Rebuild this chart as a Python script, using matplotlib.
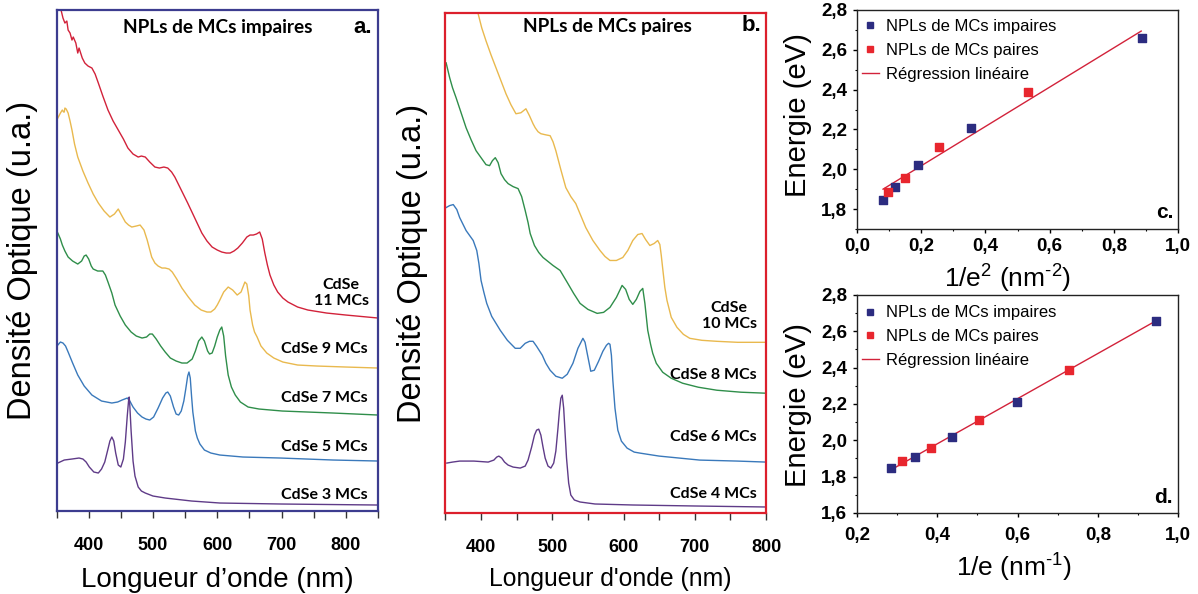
import numpy as np
import matplotlib
matplotlib.use('Agg')
import matplotlib.pyplot as plt
from matplotlib.ticker import MultipleLocator, FuncFormatter
from matplotlib.lines import Line2D

plt.rcParams['font.family'] = ['Liberation Sans', 'DejaVu Sans']
plt.rcParams['mathtext.default'] = 'regular'

# ---- panel a : odd monolayer spectra (wavelength nm, optical density a.u.)
wl_a11 = [354, 357, 360, 363, 366, 368, 371, 374, 376, 380, 383, 385, 390, 394, 399, 405, 410, 415, 422, 430,
          438, 446, 454, 461, 469, 477, 482, 488, 495, 503, 510, 517, 523, 529, 534, 544, 554, 565, 576, 584,
          592, 600, 607, 614, 620, 626, 632, 639, 646, 651, 656, 661, 666, 670, 674, 678, 682, 688, 694, 702,
          710, 725, 741, 770, 800, 850]
od_a11 = [5.11, 5.01, 4.93, 4.88, 4.90, 4.81, 4.78, 4.71, 4.74, 4.68, 4.58, 4.63, 4.53, 4.48, 4.45, 4.43, 4.37,
          4.28, 4.15, 4.01, 3.90, 3.81, 3.72, 3.63, 3.57, 3.54, 3.55, 3.54, 3.49, 3.44, 3.43, 3.44, 3.43, 3.39,
          3.34, 3.21, 3.08, 2.93, 2.78, 2.70, 2.64, 2.61, 2.59, 2.58, 2.58, 2.60, 2.63, 2.68, 2.74, 2.76, 2.76,
          2.77, 2.79, 2.72, 2.58, 2.46, 2.36, 2.26, 2.19, 2.13, 2.09, 2.04, 2.01, 1.98, 1.96, 1.93]

wl_a9 = [352, 356, 359, 361, 362, 363, 365, 368, 371, 374, 378, 383, 391, 399, 407, 415, 424, 433, 440, 446,
         451, 457, 462, 467, 474, 480, 486, 491, 498, 503, 508, 514, 519, 525, 530, 537, 545, 555, 565, 575,
         584, 590, 596, 600, 604, 610, 617, 624, 631, 637, 643, 646, 649, 651, 655, 658, 662, 668, 677, 688,
         702, 725, 755, 800, 850]
od_a9 = [3.93, 3.98, 4.01, 3.99, 3.99, 4.03, 4.02, 3.98, 3.90, 3.81, 3.67, 3.54, 3.40, 3.28, 3.17, 3.08, 3.00,
         2.94, 2.97, 3.02, 2.96, 2.89, 2.86, 2.84, 2.85, 2.86, 2.81, 2.71, 2.54, 2.48, 2.45, 2.43, 2.43, 2.42,
         2.39, 2.32, 2.23, 2.14, 2.06, 2.01, 1.99, 1.99, 2.02, 2.06, 2.11, 2.19, 2.24, 2.21, 2.16, 2.19, 2.29,
         2.27, 2.15, 2.01, 1.86, 1.79, 1.74, 1.65, 1.58, 1.53, 1.49, 1.46, 1.45, 1.44, 1.43]

wl_a7 = [352, 356, 359, 363, 368, 375, 383, 389, 393, 396, 400, 404, 407, 414, 422, 426, 430, 436, 441, 449,
         457, 466, 474, 483, 490, 495, 499, 505, 512, 519, 527, 536, 545, 553, 561, 566, 571, 576, 580, 585,
         588, 592, 596, 600, 604, 607, 610, 613, 617, 622, 628, 636, 648, 665, 701, 780, 850]
od_a7 = [2.78, 2.72, 2.66, 2.60, 2.54, 2.50, 2.47, 2.50, 2.55, 2.56, 2.52, 2.45, 2.42, 2.40, 2.40, 2.36, 2.29,
         2.18, 2.06, 1.95, 1.86, 1.79, 1.75, 1.73, 1.74, 1.77, 1.77, 1.72, 1.65, 1.59, 1.53, 1.50, 1.48, 1.48,
         1.52, 1.60, 1.70, 1.74, 1.70, 1.60, 1.57, 1.58, 1.65, 1.74, 1.81, 1.84, 1.75, 1.55, 1.36, 1.24, 1.16,
         1.09, 1.04, 1.02, 1.00, 0.98, 0.96]

wl_a5 = [352, 356, 360, 364, 368, 375, 383, 393, 405, 420, 436, 445, 452, 456, 460, 464, 469, 476, 483, 489,
         495, 501, 508, 515, 520, 523, 527, 532, 536, 540, 544, 548, 551, 554, 556, 558, 560, 562, 566, 569,
         573, 580, 590, 604, 640, 698, 780, 850]
od_a5 = [1.66, 1.69, 1.68, 1.65, 1.59, 1.48, 1.36, 1.25, 1.16, 1.10, 1.08, 1.09, 1.11, 1.12, 1.13, 1.10, 1.04,
         0.98, 0.94, 0.92, 0.91, 0.94, 1.03, 1.13, 1.18, 1.19, 1.15, 1.04, 0.97, 0.96, 1.00, 1.10, 1.22, 1.35,
         1.39, 1.33, 1.15, 0.99, 0.80, 0.73, 0.67, 0.61, 0.58, 0.56, 0.54, 0.53, 0.51, 0.50]

wl_a3 = [352, 362, 374, 385, 391, 396, 401, 408, 415, 420, 425, 430, 433, 436, 439, 442, 446, 450, 454, 457,
         460, 462, 463, 464, 466, 469, 472, 477, 482, 488, 500, 519, 560, 604, 700, 850]
od_a3 = [0.48, 0.51, 0.52, 0.53, 0.52, 0.49, 0.44, 0.39, 0.38, 0.42, 0.49, 0.62, 0.70, 0.74, 0.70, 0.58, 0.46,
         0.44, 0.52, 0.69, 0.95, 1.10, 1.14, 1.05, 0.80, 0.50, 0.35, 0.24, 0.20, 0.18, 0.15, 0.13, 0.10, 0.08,
         0.07, 0.06]

# ---- panel b : even monolayer spectra
wl_b10 = [384, 396, 401, 407, 414, 421, 428, 435, 442, 449, 456, 463, 468, 473, 476, 480, 484, 490, 497, 501,
          505, 512, 519, 526, 533, 540, 547, 557, 567, 574, 581, 590, 599, 606, 613, 620, 626, 631, 637, 643,
          648, 651, 653, 655, 658, 661, 667, 675, 684, 693, 710, 731, 760, 800]
od_b10 = [5.13, 5.00, 4.86, 4.73, 4.59, 4.46, 4.33, 4.20, 4.09, 4.00, 4.01, 4.05, 3.98, 3.90, 3.86, 3.82, 3.80,
          3.79, 3.78, 3.72, 3.63, 3.44, 3.26, 3.17, 3.10, 2.98, 2.86, 2.73, 2.63, 2.57, 2.53, 2.53, 2.56, 2.63,
          2.73, 2.79, 2.80, 2.74, 2.68, 2.70, 2.73, 2.69, 2.58, 2.45, 2.26, 2.13, 1.96, 1.86, 1.79, 1.75, 1.73,
          1.72, 1.71, 1.71]

wl_b8 = [351, 353, 356, 360, 365, 372, 379, 386, 393, 400, 407, 412, 416, 420, 424, 428, 433, 438, 445, 452,
         457, 462, 466, 469, 475, 481, 487, 494, 501, 511, 521, 530, 539, 550, 563, 572, 581, 590, 598, 603,
         608, 613, 618, 623, 627, 630, 634, 638, 641, 646, 655, 667, 683, 705, 731, 765, 800]
od_b8 = [4.51, 4.45, 4.36, 4.26, 4.16, 4.01, 3.86, 3.74, 3.63, 3.56, 3.49, 3.48, 3.53, 3.56, 3.51, 3.40, 3.34,
         3.30, 3.27, 3.25, 3.17, 3.03, 2.91, 2.80, 2.68, 2.61, 2.56, 2.52, 2.48, 2.43, 2.31, 2.20, 2.10, 2.04,
         2.00, 2.01, 2.06, 2.16, 2.28, 2.24, 2.14, 2.09, 2.14, 2.22, 2.25, 2.10, 1.83, 1.69, 1.60, 1.50, 1.41,
         1.35, 1.30, 1.26, 1.23, 1.21, 1.20]

wl_b6 = [351, 356, 361, 366, 370, 379, 389, 394, 397, 400, 404, 408, 415, 427, 437, 448, 455, 462, 468, 473,
         478, 486, 491, 497, 505, 514, 521, 529, 536, 543, 546, 549, 554, 559, 565, 571, 576, 579, 581, 583,
         585, 588, 592, 597, 605, 615, 623, 650, 707, 760, 800]
od_b6 = [3.06, 3.08, 3.09, 3.04, 2.96, 2.83, 2.73, 2.63, 2.50, 2.33, 2.21, 2.10, 1.97, 1.83, 1.73, 1.65, 1.65,
         1.70, 1.72, 1.72, 1.67, 1.58, 1.50, 1.43, 1.37, 1.35, 1.39, 1.50, 1.65, 1.75, 1.71, 1.60, 1.42, 1.43,
         1.52, 1.62, 1.68, 1.70, 1.69, 1.58, 1.33, 1.05, 0.83, 0.72, 0.65, 0.61, 0.60, 0.57, 0.53, 0.52, 0.51]

wl_b4 = [352, 360, 370, 390, 410, 418, 422, 425, 429, 433, 438, 445, 455, 462, 466, 471, 475, 478, 481, 484,
         487, 490, 494, 498, 502, 505, 508, 510, 512, 514, 516, 518, 520, 523, 526, 531, 539, 560, 613, 700, 800]
od_b4 = [0.50, 0.51, 0.52, 0.52, 0.51, 0.53, 0.56, 0.57, 0.55, 0.51, 0.48, 0.46, 0.45, 0.47, 0.53, 0.66, 0.78,
         0.83, 0.84, 0.78, 0.66, 0.55, 0.47, 0.45, 0.50, 0.62, 0.85, 1.02, 1.15, 1.18, 1.05, 0.80, 0.55, 0.30,
         0.18, 0.13, 0.11, 0.09, 0.08, 0.07, 0.06]

# ---- panel c : energy vs 1/e^2
inv_e2_odd = [0.081, 0.119, 0.191, 0.356, 0.888]
energy_odd = [1.845, 1.909, 2.019, 2.209, 2.658]
inv_e2_even = [0.097, 0.148, 0.254, 0.533]
energy_even = [1.887, 1.957, 2.110, 2.388]
fit_c_x = [0.081, 0.885]
fit_c_y = [1.900, 2.694]

# ---- panel d : energy vs 1/e
inv_e_odd = [0.285, 0.345, 0.437, 0.599, 0.944]
inv_e_even = [0.312, 0.385, 0.503, 0.729]
fit_d_x = [0.285, 0.941]
fit_d_y = [1.838, 2.653]

c_red = '#d2223a'
c_yel = '#e9b94e'
c_grn = '#2f8e4a'
c_blu = '#3a79bb'
c_pur = '#5f3b88'
navy = '#2c2c80'
red_pt = '#e8262e'

fig = plt.figure(figsize=(11.98, 5.94), dpi=100)
ax_a = fig.add_axes([0.0472, 0.1397, 0.2683, 0.8434])
ax_b = fig.add_axes([0.3718, 0.1364, 0.2676, 0.8418])
ax_c = fig.add_axes([0.7154, 0.6145, 0.268, 0.3687])
ax_d = fig.add_axes([0.7154, 0.1364, 0.268, 0.367])

lbl_font = dict(family='Lato', fontweight='bold', fontsize=11.5)
title_font = dict(family='Lato', fontweight='bold', fontsize=13.7)


def spectrum_axes(ax, xmax, frame):
    ax.set_xlim(350, xmax)
    ax.set_ylim(0, 5.01)
    ax.set_yticks([])
    ax.xaxis.set_major_locator(MultipleLocator(100))
    ax.xaxis.set_minor_locator(MultipleLocator(50))
    for s in ax.spines.values():
        s.set_color(frame)
        s.set_linewidth(1.6)
    ax.tick_params(axis='x', which='both', direction='out', length=5, width=1, color='#333333', pad=13.5)
    for t in ax.get_xticklabels():
        t.set_fontweight('bold')
        t.set_fontsize(13)
    ax.set_ylabel('Densité Optique (u.a.)', fontsize=23.5)


# panel a
for wl, od, col in [(wl_a11, od_a11, c_red), (wl_a9, od_a9, c_yel), (wl_a7, od_a7, c_grn),
                    (wl_a5, od_a5, c_blu), (wl_a3, od_a3, c_pur)]:
    ax_a.plot(wl, od, color=col, lw=1, solid_joinstyle='round')
spectrum_axes(ax_a, 850, '#3c3c8f')
ax_a.set_xlabel('Longueur d’onde (nm)', fontsize=20)
ax_a.xaxis.set_label_coords(0.5, -0.112)
ax_a.yaxis.set_label_coords(-0.058, 0.5)
ax_a.text(0.502, 0.966, 'NPLs de MCs impaires', transform=ax_a.transAxes, ha='center', va='center', **title_font)
ax_a.text(0.951, 0.966, 'a.', transform=ax_a.transAxes, ha='center', va='center', fontsize=16, fontweight='bold')
ax_a.text(0.885, 0.435, 'CdSe\n11 MCs', transform=ax_a.transAxes, ha='center', va='center', linespacing=1.25, **lbl_font)
for txt, yy in [('CdSe 9 MCs', 0.323), ('CdSe 7 MCs', 0.226), ('CdSe 5 MCs', 0.128), ('CdSe 3 MCs', 0.032)]:
    ax_a.text(0.969, yy, txt, transform=ax_a.transAxes, ha='right', va='center', **lbl_font)

# panel b
for wl, od, col in [(wl_b10, od_b10, c_yel), (wl_b8, od_b8, c_grn), (wl_b6, od_b6, c_blu), (wl_b4, od_b4, c_pur)]:
    ax_b.plot(wl, od, color=col, lw=1, solid_joinstyle='round')
spectrum_axes(ax_b, 800, '#dc1f2c')
ax_b.set_xlabel("Longueur d'onde (nm)", fontsize=17.8)
ax_b.xaxis.set_label_coords(0.513, -0.108)
ax_b.yaxis.set_label_coords(-0.054, 0.5)
ax_b.text(0.504, 0.972, 'NPLs de MCs paires', transform=ax_b.transAxes, ha='center', va='center', **title_font)
ax_b.text(0.956, 0.974, 'b.', transform=ax_b.transAxes, ha='center', va='center', fontsize=16, fontweight='bold')
ax_b.text(0.885, 0.394, 'CdSe\n10 MCs', transform=ax_b.transAxes, ha='center', va='center', linespacing=1.25, **lbl_font)
for txt, yy in [('CdSe 8 MCs', 0.276), ('CdSe 6 MCs', 0.152), ('CdSe 4 MCs', 0.038)]:
    ax_b.text(0.972, yy, txt, transform=ax_b.transAxes, ha='right', va='center', **lbl_font)

comma = FuncFormatter(lambda v, p: f'{v:.1f}'.replace('.', ','))


def energy_axes(ax, xlim, ylim, xpad, leg_y):
    ax.set_xlim(*xlim)
    ax.set_ylim(*ylim)
    ax.xaxis.set_major_locator(MultipleLocator(0.2))
    ax.xaxis.set_minor_locator(MultipleLocator(0.1))
    ax.yaxis.set_major_locator(MultipleLocator(0.2))
    ax.yaxis.set_minor_locator(MultipleLocator(0.1))
    ax.xaxis.set_major_formatter(comma)
    ax.yaxis.set_major_formatter(comma)
    for s in ax.spines.values():
        s.set_color('#222222')
        s.set_linewidth(1)
    ax.tick_params(which='major', direction='out', length=3, width=1, labelsize=13.5)
    ax.tick_params(which='minor', direction='out', length=1.5, width=0.8)
    ax.tick_params(axis='x', pad=xpad)
    ax.tick_params(axis='y', pad=4)
    for t in ax.get_xticklabels() + ax.get_yticklabels():
        t.set_fontweight('bold')
    ax.set_ylabel('Energie (eV)', fontsize=21)
    handles = [Line2D([], [], ls='none', marker='s', ms=4.8, color=navy),
               Line2D([], [], ls='none', marker='s', ms=4.8, color=red_pt),
               Line2D([], [], color=c_red, lw=1)]
    ax.legend(handles, ['NPLs de MCs impaires', 'NPLs de MCs paires', 'Régression linéaire'],
              loc='upper left', bbox_to_anchor=(-0.016, leg_y), frameon=False, fontsize=12,
              handlelength=1.0, handletextpad=0.45, labelspacing=0.53, borderaxespad=0.2)


# panel c
ax_c.plot(fit_c_x, fit_c_y, color=c_red, lw=1, zorder=2)
ax_c.scatter(inv_e2_odd, energy_odd, marker='s', s=26, color=navy, zorder=3)
ax_c.scatter(inv_e2_even, energy_even, marker='s', s=26, color=red_pt, zorder=3)
energy_axes(ax_c, (0, 1.0), (1.7, 2.8), 3.5, 1.003)
ax_c.set_xlabel('1/e$^2$ (nm$^{\u20102}$)', fontsize=19)
ax_c.xaxis.set_label_coords(0.47, -0.155)
ax_c.yaxis.set_label_coords(-0.14, 0.52)
ax_c.text(0.96, 0.073, 'c.', transform=ax_c.transAxes, ha='center', va='center', fontsize=15, fontweight='bold')

# panel d
ax_d.plot(fit_d_x, fit_d_y, color=c_red, lw=1, zorder=2)
ax_d.scatter(inv_e_odd, energy_odd, marker='s', s=26, color=navy, zorder=3)
ax_d.scatter(inv_e_even, energy_even, marker='s', s=26, color=red_pt, zorder=3)
energy_axes(ax_d, (0.2, 1.0), (1.6, 2.8), 7, 0.998)
ax_d.set_xlabel('1/e (nm$^{\u20101}$)', fontsize=19)
ax_d.xaxis.set_label_coords(0.49, -0.179)
ax_d.yaxis.set_label_coords(-0.14, 0.495)
ax_d.text(0.953, 0.069, 'd.', transform=ax_d.transAxes, ha='center', va='center', fontsize=15, fontweight='bold')

fig.savefig('out.png', dpi=100)
